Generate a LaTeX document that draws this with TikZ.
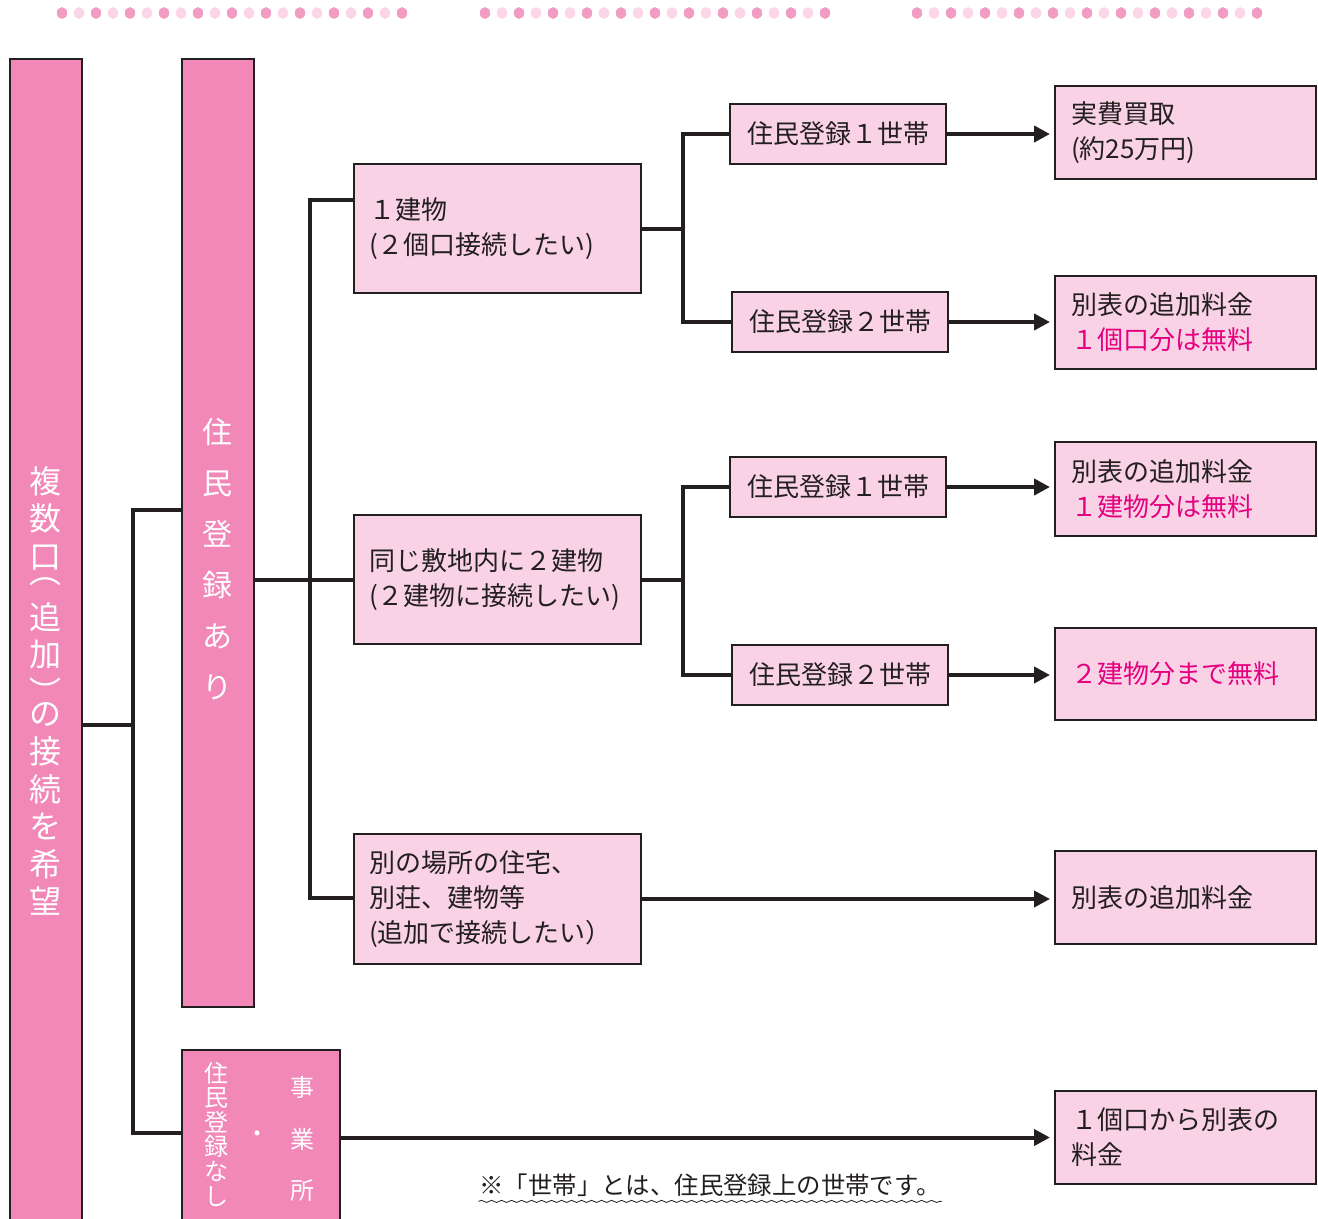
\documentclass[tikz,border=0pt]{standalone}
\usepackage{fontspec}
\setmainfont{Noto Sans CJK JP}
\usepackage{xcolor}
\usepackage{tikz}
\usetikzlibrary{arrows.meta,calc,positioning,decorations.pathmorphing}

\definecolor{inkgray}{HTML}{231F20}
\definecolor{deeppink}{HTML}{F188B8}
\definecolor{palepink}{HTML}{F9D3E5}
\definecolor{notepink}{HTML}{E4007F}
\definecolor{dotdark}{HTML}{F39CC3}
\definecolor{dotlight}{HTML}{FBD6E7}

\begin{document}
\begin{tikzpicture}[x=0.75pt, y=-0.75pt, line width=1.5pt,
  font=\fontsize{19.5pt}{26.25pt}\selectfont, text=inkgray,
  colbox/.style={draw=inkgray, fill=deeppink, inner sep=0pt, anchor=north west},
  vtext/.style={text=white, align=center, inner sep=0pt},
  casebox/.style={draw=inkgray, fill=palepink, anchor=north west, align=left,
    inner xsep=11.25pt, text width=192.75pt, minimum height=96.75pt},
  hhbox/.style={draw=inkgray, fill=palepink, anchor=north west, align=center,
    inner sep=0pt, minimum width=162pt, minimum height=45pt},
  feebox/.style={draw=inkgray, fill=palepink, anchor=north west, align=left,
    inner xsep=12pt, text width=171.75pt, minimum height=69.75pt},
  conn/.style={draw=inkgray, line width=3pt},
  feed/.style={conn, -{Triangle[length=12pt, width=12pt]}, shorten >=3pt}]

  \useasboundingbox (0,0) rectangle (1318,1218);

  % dotted rule on top
  \foreach \gx in {62,485,917}{
    \foreach \i in {0,2,...,20}
      \fill[dotdark] (\gx+17*\i,13) ellipse [x radius=3.9pt, y radius=4.4pt];
    \foreach \i in {1,3,...,19}
      \fill[dotlight] (\gx+17*\i,13) ellipse [x radius=3.9pt, y radius=4.4pt];
  }

  % vertical headers
  \node[colbox, minimum width=54pt, minimum height=950.25pt] (multi) at (9,58) {};
  \node[vtext, font={\fontsize{24pt}{28.2pt}\selectfont\lineskiplimit=-20pt}]
    (multitext) at (45,691)
    {複\\数\\口\\[-16.5pt]︵\\[5.85pt]追\\加\\[0.3pt]︶\\[-12.5pt]の\\接\\続\\を\\希\\望};
  \node[colbox, minimum width=54pt, minimum height=711pt] (ari) at (181,58) {};
  \node[vtext, font={\fontsize{22.5pt}{38.25pt}\selectfont}] (aritext) at (217,559)
    {住\\民\\登\\録\\あ\\り};
  \node[colbox, minimum width=118.5pt, minimum height=190pt] (nashi) at (181,1049) {};
  \node[vtext, font={\fontsize{18pt}{18.45pt}\selectfont\lineskiplimit=-20pt}] (nashitext)
    at (216,1134) {住\\民\\登\\録\\な\\し};
  \node[vtext, font={\fontsize{18pt}{18pt}\selectfont}] (naka) at (257,1137) {・};
  \node[vtext, font={\fontsize{18pt}{38.6pt}\selectfont}] (jigyo) at (302,1139)
    {事\\業\\所};

  % cases
  \node[casebox] (one) at (353,163) {１建物\\(２個口接続したい)};
  \node[casebox] (two) at (353,514) {同じ敷地内に２建物\\(２建物に接続したい)};
  \node[casebox, minimum height=97.5pt] (away) at (353,833)
    {別の場所の住宅、\\別荘、建物等\\(追加で接続したい）};

  % households
  \node[hhbox] (one1) at (729,103) {住民登録１世帯};
  \node[hhbox] (one2) at (731,291) {住民登録２世帯};
  \node[hhbox] (two1) at (729,456) {住民登録１世帯};
  \node[hhbox] (two2) at (731,644) {住民登録２世帯};

  % fees
  \node[feebox] (buy) at (1054,85) {実費買取\\(約25万円)};
  \node[feebox] (fee1) at (1054,275) {別表の追加料金\\\textcolor{notepink}{１個口分は無料}};
  \node[feebox, minimum height=70.5pt] (fee2) at (1054,441)
    {別表の追加料金\\\textcolor{notepink}{１建物分は無料}};
  \node[feebox, minimum height=69pt] (fee3) at (1054,627) {\textcolor{notepink}{２建物分まで無料}};
  \node[feebox] (fee4) at (1054,850) {別表の追加料金};
  \node[feebox] (fee5) at (1054,1090) {１個口から別表の\\料金};

  % trunks
  \coordinate (trunkA) at (133,510);
  \coordinate (trunkB) at (133,1133);
  \coordinate (joinA) at (133,725);
  \coordinate (trunkC) at (310,200);
  \coordinate (trunkD) at (310,898);

  \draw[conn] (multi.east |- joinA) -- (joinA);
  \draw[conn] (ari.west |- trunkA) -- (trunkA) -- (trunkB) -- (nashi.west |- trunkB);
  \draw[conn] (one.west |- trunkC) -- (trunkC) -- (trunkD) -- (away.west |- trunkD);
  \draw[conn] (ari.east |- two.west) -- (two.west);

  \draw[conn] (one.east) -- ++(41,0) |- (one1.west);
  \draw[conn] (one.east) -- ++(41,0) |- (one2.west);
  \draw[conn] (two.east) -- ++(41,0) |- (two1.west);
  \draw[conn] (two.east) -- ++(41,0) |- (two2.west);

  \draw[feed] (one1.east) -- (one1.east -| buy.west);
  \draw[feed] (one2.east) -- (one2.east -| fee1.west);
  \draw[feed] (two1.east) -- (two1.east -| fee2.west);
  \draw[feed] (two2.east) -- (two2.east -| fee3.west);
  \draw[feed] (away.east) -- (away.east -| fee4.west);
  \draw[feed] (nashi.east |- fee5.west) -- (fee5.west);

  % footnote
  \node[inner sep=0pt, font={\fontsize{18.3pt}{18.3pt}\selectfont}] (note) at (710,1185)
    {※「世帯」とは、住民登録上の世帯です。};
  \draw[draw=inkgray, line width=0.6pt, decorate,
    decoration={snake, segment length=7.5pt, amplitude=0.8pt}]
    ([yshift=-3pt]note.south west) -- ([yshift=-3pt]note.south east);

\end{tikzpicture}
\end{document}
